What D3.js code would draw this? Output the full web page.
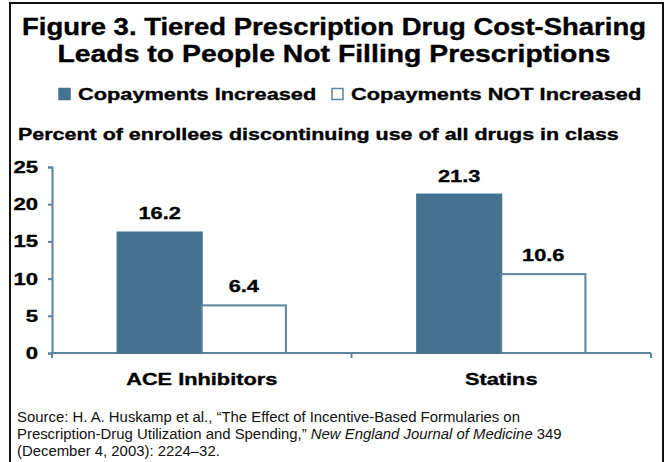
<!DOCTYPE html>
<html>
<head>
<meta charset="utf-8">
<script src="https://cdn.jsdelivr.net/npm/d3@7"></script>
<style>
  body { margin: 0; background: #fff; }
  svg { display: block; font-family: "Liberation Sans", Arial, sans-serif; }
  .bold { font-weight: bold; fill: #000; stroke: #000; stroke-width: 0.35px; }
</style>
</head>
<body>
<div class="canva"></div>
<script>
// chart data
const categories = ["ACE Inhibitors", "Statins"];
const seriesNames = ["Copayments Increased", "Copayments NOT Increased"];
const increased = [16.2, 21.3];
const notIncreased = [6.4, 10.6];
const yTicks = [0, 5, 10, 15, 20, 25];

const dark = "#44728f";
const axisColor = "#5a83a0";
const wide = 1.28; // the original uses a wider bold face

// stretch text horizontally to mimic the wide font
function stretch(sel, f) {
    sel.each(function () {
        const w = this.getComputedTextLength();
        d3.select(this).attr("textLength", w * f).attr("lengthAdjust", "spacingAndGlyphs");
    });
}

const svg = d3.select(".canva").append("svg")
    .attr("width", 668)
    .attr("height", 462);

// frame
svg.append("path")
    .attr("d", "M10,480 V3 H663 V480")
    .attr("fill", "none")
    .attr("stroke", "#111")
    .attr("stroke-width", 2);

// title
svg.append("text")
    .attr("class", "bold")
    .attr("x", 334).attr("y", 35)
    .attr("text-anchor", "middle")
    .style("font-size", "23px")
    .attr("textLength", 624).attr("lengthAdjust", "spacingAndGlyphs")
    .text("Figure 3. Tiered Prescription Drug Cost-Sharing");

svg.append("text")
    .attr("class", "bold")
    .attr("x", 334).attr("y", 62)
    .attr("text-anchor", "middle")
    .style("font-size", "23px")
    .attr("textLength", 553).attr("lengthAdjust", "spacingAndGlyphs")
    .text("Leads to People Not Filling Prescriptions");

// legend
const legend = svg.append("g");
const legendX = [58, 331];
seriesNames.forEach((name, i) => {
    legend.append("rect")
        .attr("x", legendX[i] + 1).attr("y", 88.5)
        .attr("width", 11).attr("height", 11)
        .attr("fill", i === 0 ? dark : "#fff")
        .attr("stroke", i === 0 ? dark : axisColor)
        .attr("stroke-width", 1.5);
    legend.append("text")
        .attr("class", "bold")
        .attr("x", legendX[i] + 20).attr("y", 100)
        .style("font-size", "17px")
        .text(name)
        .call(stretch, wide);
});

// subtitle
svg.append("text")
    .attr("class", "bold")
    .attr("x", 18).attr("y", 140)
    .style("font-size", "16.5px")
    .text("Percent of enrollees discontinuing use of all drugs in class")
    .call(stretch, 1.3);

// scales
const y = d3.scaleLinear().domain([0, 25]).range([353, 167]);
const x = d3.scaleBand().domain(categories).range([52, 651]).padding(0);
const xSub = d3.scaleBand().domain(seriesNames)
    .range([0, x.bandwidth()]).paddingInner(0).paddingOuter(0.78);

// y axis
const yAxis = svg.append("g")
    .attr("transform", "translate(52,0)")
    .call(d3.axisLeft(y).tickValues(yTicks).tickSize(4).tickPadding(10).tickFormat(d3.format("d")));
yAxis.select(".domain").attr("stroke", axisColor).attr("stroke-width", 2);
yAxis.selectAll(".tick line").attr("stroke", axisColor).attr("stroke-width", 2);
yAxis.selectAll(".tick text")
    .attr("class", "bold")
    .style("font-size", "17px")
    .style("font-family", "Liberation Sans, Arial, sans-serif")
    .call(stretch, 1.3);

// x axis
svg.append("line")
    .attr("x1", 52).attr("x2", 651)
    .attr("y1", y(0)).attr("y2", y(0))
    .attr("stroke", axisColor).attr("stroke-width", 2);

const bounds = categories.map(c => x(c)).concat([x(categories[1]) + x.bandwidth()]);
svg.selectAll(".xtick").data(bounds).join("line")
    .attr("class", "xtick")
    .attr("x1", d => d).attr("x2", d => d)
    .attr("y1", y(0)).attr("y2", y(0) + 5)
    .attr("stroke", axisColor).attr("stroke-width", 2);

svg.selectAll(".xlabel").data(categories).join("text")
    .attr("class", "xlabel bold")
    .attr("x", d => x(d) + x.bandwidth() / 2)
    .attr("y", 385)
    .attr("text-anchor", "middle")
    .style("font-size", "17px")
    .text(d => d)
    .call(stretch, wide);

// bars
const rows = categories.map((c, i) => ({ cat: c, vals: [increased[i], notIncreased[i]] }));

const groups = svg.selectAll(".grp").data(rows).join("g")
    .attr("class", "grp")
    .attr("transform", d => `translate(${x(d.cat)},0)`);

groups.selectAll("rect")
    .data(d => d.vals.map((v, j) => ({ name: seriesNames[j], v: v, j: j })))
    .join("rect")
    .attr("x", d => xSub(d.name))
    .attr("y", d => y(d.v))
    .attr("width", xSub.bandwidth())
    .attr("height", d => y(0) - y(d.v))
    .attr("fill", d => d.j === 0 ? dark : "#fff")
    .attr("stroke", d => d.j === 0 ? dark : axisColor)
    .attr("stroke-width", 2);

groups.selectAll(".val")
    .data(d => d.vals.map((v, j) => ({ name: seriesNames[j], v: v })))
    .join("text")
    .attr("class", "val bold")
    .attr("x", d => xSub(d.name) + xSub.bandwidth() / 2)
    .attr("y", d => y(d.v) - 13)
    .attr("text-anchor", "middle")
    .style("font-size", "17px")
    .text(d => d.v.toFixed(1))
    .call(stretch, wide);

// source note
const src = svg.append("text")
    .attr("x", 17).attr("y", 422)
    .style("font-size", "14.9px").attr("fill", "#111");
src.append("tspan").attr("x", 17)
    .text("Source: H. A. Huskamp et al., \u201cThe Effect of Incentive-Based Formularies on");
const l2 = src.append("tspan").attr("x", 17).attr("dy", 17);
l2.append("tspan").text("Prescription-Drug Utilization and Spending,\u201d ");
l2.append("tspan").style("font-style", "italic").text("New England Journal of Medicine");
l2.append("tspan").text(" 349");
src.append("tspan").attr("x", 17).attr("dy", 17)
    .text("(December 4, 2003): 2224\u201332.");
</script>
</body>
</html>
